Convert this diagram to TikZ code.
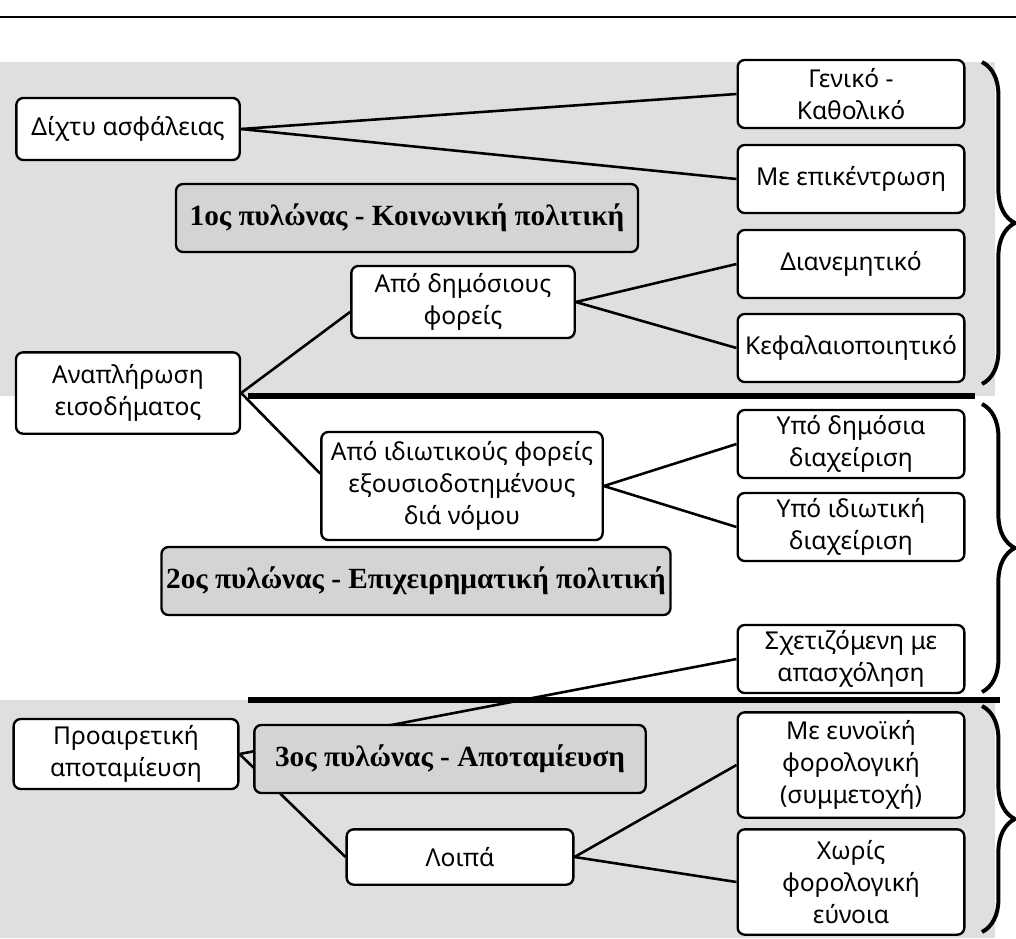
\documentclass[tikz,border=0pt]{standalone}
\usepackage{fontspec}
\setmainfont{Noto Sans}
\newfontfamily\pylfont{Liberation Serif}
\usepackage{tikz}
\usetikzlibrary{decorations.pathreplacing}
\pgfdeclarelayer{bg}
\pgfdeclarelayer{edges}
\pgfsetlayers{bg,edges,main}

\begin{document}
\begin{tikzpicture}[x=0.015cm,y=-0.015cm,
		box/.style={draw,line width=1pt,rounded corners=3pt,fill=white,align=center,inner sep=2pt,
			font=\fontsize{10.5}{13.5}\selectfont,minimum width=3.4cm,minimum height=1.02cm},
		pylbox/.style={box,fill=gray!34,font=\pylfont\bfseries\fontsize{12.5}{15}\selectfont},
		link/.style={line width=1.1pt},
		sep/.style={line width=2.3pt},
		grp/.style={decorate,decoration={brace,amplitude=14pt},line width=1.7pt}]
		\useasboundingbox (0,0) rectangle (1016,938);
		% shaded bands
		\begin{pgfonlayer}{bg}
			\fill[gray!25] (0,62) rectangle (995,396);
			\fill[gray!25] (0,700) rectangle (995,938);
		\end{pgfonlayer}
		\draw[line width=1.2pt] (0,17) -- (1016,17);
		% first band
		\node[box,minimum width=3.35cm,minimum height=0.93cm] (dixtu) at (128,129) {Δίχτυ ασφάλειας};
		\node[box] (geniko) at (851,94) {Γενικό -\\Καθολικό};
		\node[box] (epikentr) at (851,179) {Με επικέντρωση};
		\node[pylbox,minimum width=6.93cm] (pyl1) at (407,218) {1ος πυλώνας - Κοινωνική πολιτική};
		\node[box] (dianem) at (851,264) {Διανεμητικό};
		\node[box,minimum width=3.35cm,minimum height=1.08cm] (dimosious) at (463,302) {Από δημόσιους\\φορείς};
		\node[box] (kefal) at (851,348) {Κεφαλαιοποιητικό};
		\node[box,minimum width=3.36cm,minimum height=1.22cm] (anapl) at (128,393) {Αναπλήρωση\\εισοδήματος};
		% second band
		\node[box] (ypodim) at (851,444) {Υπό δημόσια\\διαχείριση};
		\node[box,minimum width=4.22cm,minimum height=1.62cm] (idiwt) at (462,486) {Από ιδιωτικούς φορείς\\εξουσιοδοτημένους\\διά νόμου};
		\node[box] (ypoidiwt) at (851,527) {Υπό ιδιωτική\\διαχείριση};
		\node[pylbox,minimum width=7.55cm] (pyl2) at (416,581) {2ος πυλώνας - Επιχειρηματική πολιτική};
		\node[box] (sxetiz) at (851,659) {Σχετιζόμενη με\\απασχόληση};
		% third band
		\node[box,minimum width=3.37cm,minimum height=1.05cm] (proair) at (126,754) {Προαιρετική\\αποταμίευση};
		\node[pylbox,minimum width=5.87cm] (pyl3) at (450,759) {3ος πυλώνας - Αποταμίευση};
		\node[box,minimum width=3.4cm,minimum height=1.58cm] (evnoiki) at (851,765) {Με ευνοϊκή\\φορολογική\\(συμμετοχή)};
		\node[box,minimum width=3.4cm,minimum height=0.83cm] (loipa) at (460,857) {Λοιπά};
		\node[box,minimum width=3.4cm,minimum height=1.58cm] (xwris) at (851,882) {Χωρίς\\φορολογική\\εύνοια};
		% links
		\begin{pgfonlayer}{edges}
			\draw[link] (dixtu.east) -- (geniko.west);
			\draw[link] (dixtu.east) -- (epikentr.west);
			\draw[link] (anapl.east) -- (dimosious.185);
			\draw[link] (anapl.east) -- (idiwt.175);
			\draw[link] (dimosious.east) -- (dianem.west);
			\draw[link] (dimosious.east) -- (kefal.west);
			\draw[link] (idiwt.east) -- (ypodim.west);
			\draw[link] (idiwt.east) -- (ypoidiwt.west);
			\draw[link] (proair.east) -- (sxetiz.west);
			\draw[link] (proair.east) -- (loipa.west);
			\draw[link] (loipa.east) -- (evnoiki.west);
			\draw[link] (loipa.east) -- (xwris.west);
		\end{pgfonlayer}
		% band rules
		\draw[sep] (248,396) -- (975,396);
		\draw[sep] (248,700) -- (1000,700);
		% braces
		\draw[grp] (982,62) -- (982,384);
		\draw[grp] (982,404) -- (982,692);
		\draw[grp] (982,706) -- (982,932);
	\end{tikzpicture}
\end{document}
